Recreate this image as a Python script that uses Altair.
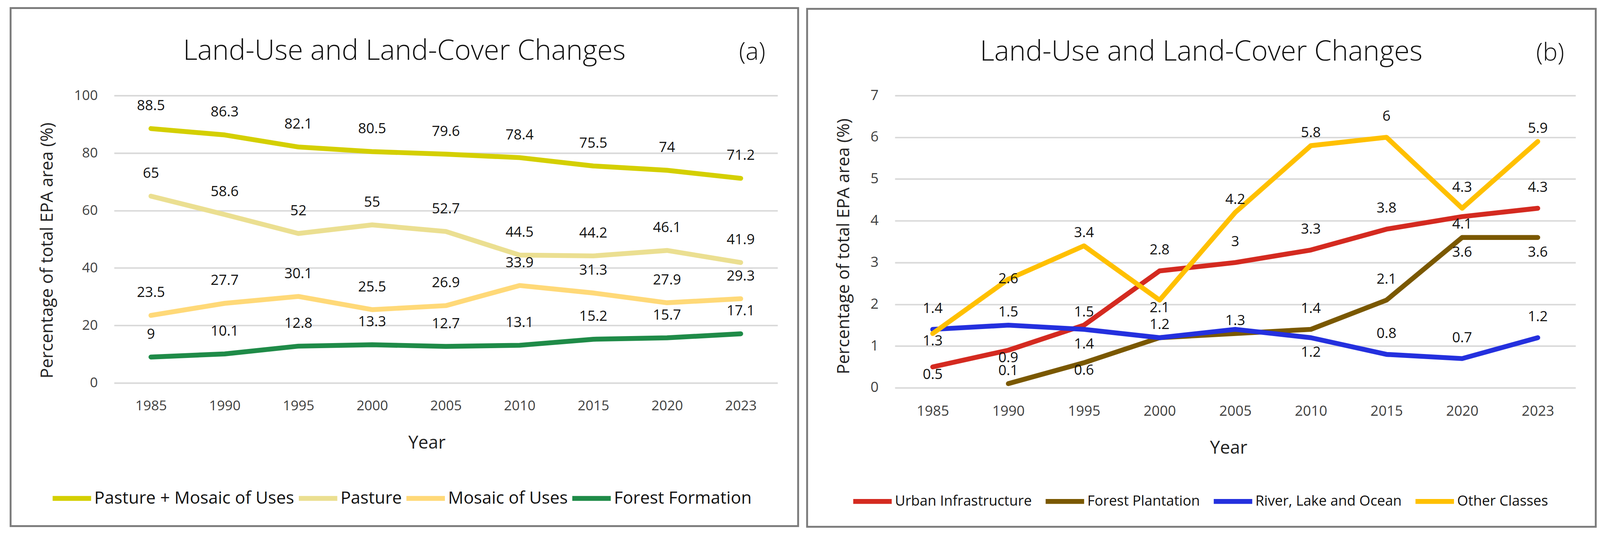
import altair as alt
import pandas as pd

# ---------------- data ----------------
years = ["1985", "1990", "1995", "2000", "2005", "2010", "2015", "2020", "2023"]

series_a = ["Pasture + Mosaic of Uses", "Pasture", "Mosaic of Uses", "Forest Formation"]
pasture_mosaic = [88.5, 86.3, 82.1, 80.5, 79.6, 78.4, 75.5, 74, 71.2]
pasture = [65, 58.6, 52, 55, 52.7, 44.5, 44.2, 46.1, 41.9]
mosaic = [23.5, 27.7, 30.1, 25.5, 26.9, 33.9, 31.3, 27.9, 29.3]
forest_formation = [9, 10.1, 12.8, 13.3, 12.7, 13.1, 15.2, 15.7, 17.1]
colors_a = ["#d4cf00", "#ebdf91", "#ffd978", "#1f8b48"]

series_b = ["Urban Infrastructure", "Forest Plantation", "River, Lake and Ocean", "Other Classes"]
urban = [0.5, 0.9, 1.5, 2.8, 3, 3.3, 3.8, 4.1, 4.3]
plantation = [None, 0.1, 0.6, 1.2, 1.3, 1.4, 2.1, 3.6, 3.6]
river = [1.4, 1.5, 1.4, 1.2, 1.4, 1.2, 0.8, 0.7, 1.2]
other = [1.3, 2.6, 3.4, 2.1, 4.2, 5.8, 6, 4.3, 5.9]
colors_b = ["#d42a20", "#7a5800", "#2430de", "#ffc000"]

# data-label placement (a: all above)
place_a = ["above"] * 9
place_b = {
    "Urban Infrastructure": ["below_near", "below_near", "above_near", "above", "above", "above", "above", "below_near", "above"],
    "Forest Plantation": ["none", "above_near", "below_near", "above_near", "above_near", "above", "above", "below", "below"],
    "River, Lake and Ocean": ["above", "above_near", "below", "none", "none", "below", "above", "above", "above"],
    "Other Classes": ["below_near", "center", "above_near", "below_near", "above_near", "above_near", "above", "above", "above_near"],
}

FONT = "Open Sans"


def make_df(series, values, places):
    rows = []
    for s, vals in zip(series, values):
        pl = places[s]
        for y, v, p in zip(years, vals, pl):
            rows.append({
                "year": y, "series": s, "value": v,
                "label": ("" if v is None else f"{v:g}"), "place": p,
            })
    return pd.DataFrame(rows)


df_a = make_df(series_a, [pasture_mosaic, pasture, mosaic, forest_formation],
               {s: place_a for s in series_a})
df_b = make_df(series_b, [urban, plantation, river, other], place_b)


def panel(df, series, colors, ymax, ystep, w, h, frame, title_x, tag_x, title_y,
          ytitle_xy, xtitle_xy, legend_xy, legend_size, col_pad, offsets, tick_size):
    x_enc = alt.X("year:N", sort=years, scale=alt.Scale(type="point", padding=0.5),
                  axis=alt.Axis(title="Year", labelAngle=0, ticks=False, domain=False, grid=False,
                                labelPadding=44, labelFontSize=tick_size, labelColor="#404040",
                                labelFont=FONT, titleFont=FONT, titleFontSize=48,
                                titleFontWeight="normal", titleColor="#222",
                                titleX=xtitle_xy[0], titleY=xtitle_xy[1],
                                titleBaseline="middle", titleAlign="center", zindex=1))
    y_enc = alt.Y("value:Q", scale=alt.Scale(domain=[0, ymax], nice=False, zero=True),
                  axis=alt.Axis(title="Percentage of total EPA area (%)",
                                values=[i * ystep for i in range(int(round(ymax / ystep)) + 1)],
                                ticks=False, domain=False, grid=True, gridColor="#d9d9d9",
                                gridWidth=4, labelPadding=44, labelFontSize=tick_size,
                                labelColor="#404040", labelFont=FONT,
                                titleFont=FONT, titleFontSize=46, titleFontWeight="normal",
                                titleColor="#222", titleAngle=270,
                                titleX=ytitle_xy[0], titleY=ytitle_xy[1],
                                titleBaseline="middle", titleAlign="center"))
    color_enc = alt.Color("series:N", sort=series,
                          scale=alt.Scale(domain=series, range=colors),
                          legend=alt.Legend(title=None, orient="none", direction="horizontal",
                                            legendX=legend_xy[0], legendY=legend_xy[1],
                                            symbolType="stroke", symbolSize=10609,
                                            symbolStrokeWidth=13, labelFont=FONT,
                                            labelFontSize=legend_size, labelColor="#111",
                                            labelOffset=2, columnPadding=col_pad,
                                            labelLimit=1000, padding=0))

    base = alt.Chart(df).encode(x=x_enc, y=y_enc)

    border = alt.Chart(pd.DataFrame({"k": [0]})).mark_rect(
        fill="white", fillOpacity=0, stroke="#7a7a7a", strokeWidth=5
    ).encode(x=alt.value(frame[0]), x2=alt.value(frame[1]),
             y=alt.value(frame[2]), y2=alt.value(frame[3]))

    lines = [
        base.transform_filter(alt.datum.series == s).mark_line(
            strokeWidth=13, strokeCap="round", strokeJoin="round"
        ).encode(color=color_enc)
        for s in series
    ]

    lab = base.transform_filter("isValid(datum.value)")
    labels = [
        lab.transform_filter(alt.datum.place == p).mark_text(
            font=FONT, fontSize=38, color="#111", dy=d, baseline="middle", align="center"
        ).encode(text="label:N")
        for p, d in offsets.items()
    ]

    tdf = pd.DataFrame({"t": ["Land-Use and Land-Cover Changes"]})
    title = alt.Chart(tdf).mark_text(font=FONT, fontSize=75, fontWeight=300, color="#111",
                                     align="center", baseline="alphabetic").encode(
        text="t:N", x=alt.value(title_x), y=alt.value(title_y))
    tag = alt.Chart(pd.DataFrame({"t": [frame[4]]})).mark_text(
        font=FONT, fontSize=66, fontWeight=300, color="#111",
        align="center", baseline="alphabetic").encode(
        text="t:N", x=alt.value(tag_x), y=alt.value(title_y))

    return alt.layer(border, *lines, *labels, title, tag).properties(width=w, height=h)


left = panel(df_a, series_a, colors_a, 100, 20, 1776, 769,
             frame=(-277, 1831, -234, 1152, "(a)"),
             title_x=777, tag_x=1708, title_y=-96,
             ytitle_xy=(-179, 414), xtitle_xy=(837, 161),
             legend_xy=(-171, 1020), legend_size=46, col_pad=-15,
             offsets={"above": -60}, tick_size=37)

right = panel(df_b, series_b, colors_b, 7, 1, 1822, 782,
              frame=(-235, 1876, -232, 1154, "(b)"),
              title_x=820, tag_x=1754, title_y=-94,
              ytitle_xy=(-137, 403), xtitle_xy=(893, 162),
              legend_xy=(-118, 1028), legend_size=38, col_pad=10,
              offsets={"above": -55, "above_near": -34, "below": 40,
                       "below_near": 21, "center": 0},
              tick_size=38)

chart = alt.hconcat(left, right, spacing=18).resolve_scale(color="independent").configure(
    padding={"left": 17, "top": -21, "right": 0, "bottom": 0},
    background="white",
).configure_view(stroke=None)

chart.save("out.html", embed_options={"renderer": "svg", "actions": False})
